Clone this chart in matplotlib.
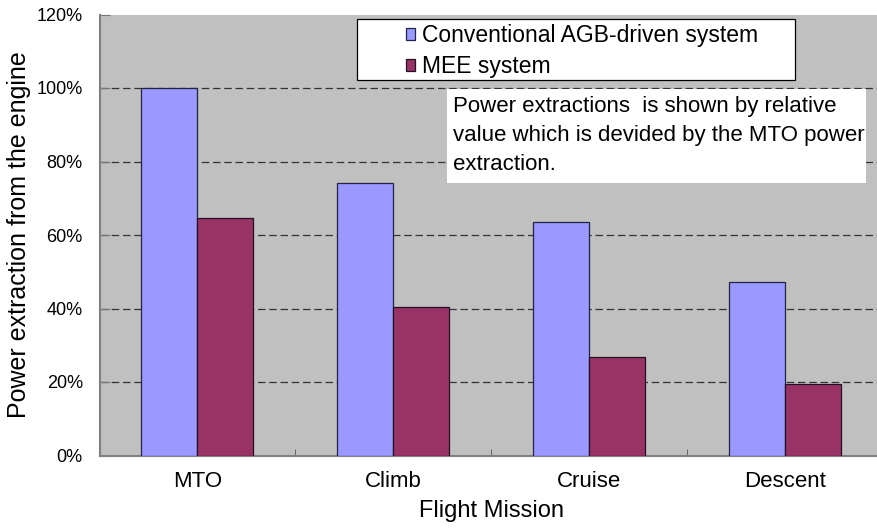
import matplotlib
matplotlib.use("Agg")
import matplotlib.pyplot as plt
from matplotlib.patches import Rectangle
from matplotlib.ticker import FixedLocator, PercentFormatter
import numpy as np

plt.rcParams['font.family'] = ['Liberation Sans', 'DejaVu Sans']

categories = ["MTO", "Climb", "Cruise", "Descent"]
conventional = [100.0, 74.1, 63.5, 47.3]
mee = [64.5, 40.5, 26.9, 19.5]
series_names = ["Conventional AGB-driven system", "MEE system"]
y_ticks = [0, 20, 40, 60, 80, 100, 120]
note_text = ("Power extractions  is shown by relative\n"
             "value which is devided by the MTO power\n"
             "extraction.")

W, H = 877, 530
fig = plt.figure(figsize=(W / 100, H / 100), dpi=100)


def fx(px):
    return px / W


def fy(py):
    return 1 - py / H


ax = fig.add_axes([fx(99.5), fy(455.5), fx(883) - fx(99.5), fy(14.5) - fy(455.5)])
ax.set_facecolor("#C0C0C0")

x = np.arange(len(categories))
bw = 1 / 3.5
ax.bar(x - bw / 2, conventional, bw, color="#9999FF", edgecolor="#222244",
       linewidth=0.9, zorder=3, label=series_names[0])
ax.bar(x + bw / 2, mee, bw, color="#993366", edgecolor="#221122",
       linewidth=0.9, zorder=3, label=series_names[1])

ax.set_xlim(-0.5, len(categories) - 0.5)
ax.set_ylim(0, 120)

ax.yaxis.set_major_locator(FixedLocator(y_ticks))
ax.yaxis.set_major_formatter(PercentFormatter(decimals=0))
for v in y_ticks[1:-1]:
    ax.axhline(v, color="#333333", linewidth=0.9, linestyle=(0, (6, 3)), zorder=1)

ax.set_xticks(x)
ax.set_xticklabels(categories)
ax.set_xticks(np.arange(len(categories) + 1) - 0.5, minor=True)
ax.tick_params(axis="x", which="major", length=0, pad=11, labelsize=16)
ax.tick_params(axis="x", which="minor", direction="in", length=5, color="#555555")
ax.tick_params(axis="y", which="major", direction="in", length=7, color="#777777",
               pad=12, labelsize=13)

for side in ("top", "right"):
    ax.spines[side].set_visible(False)
for side in ("left", "bottom"):
    ax.spines[side].set_color("#808080")
    ax.spines[side].set_linewidth(1.5)

ax.set_xlabel("Flight Mission", fontsize=17, labelpad=6)
ax.set_ylabel("Power extraction from the engine", fontsize=18, labelpad=4)

# legend frame and entries
fig.patches.append(Rectangle((fx(357), fy(80)), fx(795) - fx(357), fy(19) - fy(80),
                             transform=fig.transFigure, facecolor="white",
                             edgecolor="black", linewidth=0.9, zorder=5))
leg = fig.legend(loc="upper left", bbox_to_anchor=(fx(390), fy(8)), frameon=False,
                 fontsize=16.5, handlelength=0.4, handleheight=0.4, handletextpad=0.3,
                 labelspacing=0.35, borderpad=0.2)
leg.set_zorder(6)

# note box
fig.patches.append(Rectangle((fx(447), fy(183)), fx(866) - fx(447), fy(89) - fy(183),
                             transform=fig.transFigure, facecolor="white",
                             edgecolor="none", zorder=5))
fig.text(fx(453), fy(96), note_text, fontsize=16, ha="left", va="top",
         linespacing=1.5, zorder=6)

fig.savefig("out.png", dpi=100)
